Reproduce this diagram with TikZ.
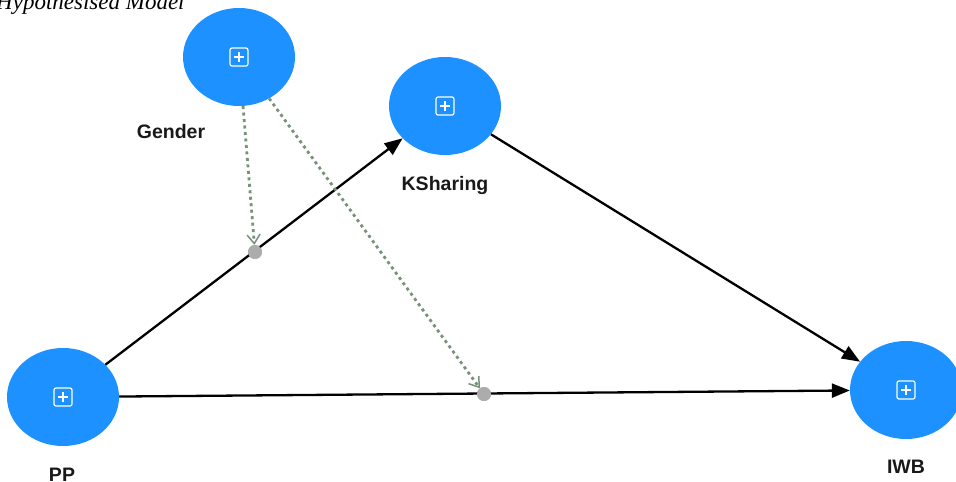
\documentclass[tikz,border=0pt]{standalone}
\usepackage{fontspec}
\setmainfont{Liberation Sans}
\newfontfamily\titlefont{Liberation Serif}
\usetikzlibrary{shapes.geometric,arrows.meta,calc}
\definecolor{lvblue}{RGB}{28,145,255}
\definecolor{modgreen}{RGB}{120,145,122}
\definecolor{dotgray}{RGB}{172,172,172}
\tikzset{
  latent/.style={ellipse,fill=lvblue,draw=none,minimum width=112pt,minimum height=98pt,inner sep=0pt,
    path picture={
      \draw[white,line width=1.2pt,rounded corners=2pt]
        ($(path picture bounding box.center)+(-9pt,-9pt)$) rectangle ++(18pt,18pt);
      \draw[white,line width=1.2pt]
        ($(path picture bounding box.center)+(-5pt,0pt)$) -- ++(10pt,0pt);
      \draw[white,line width=1.2pt]
        ($(path picture bounding box.center)+(0pt,-5pt)$) -- ++(0pt,10pt);
    }},
  lvlabel/.style={font=\bfseries\fontsize{19.5}{22}\selectfont,text=black!90,inner sep=0pt},
  path1/.style={line width=2.3pt,black,-{Triangle[length=18pt,width=14pt]}},
  modpath/.style={line width=2.8pt,modgreen,dash pattern=on 3pt off 3.5pt,
    -{Straight Barb[length=9pt,width=13pt,line width=1.5pt]}},
  moddot/.style={circle,fill=dotgray,draw=none,minimum size=14pt,inner sep=0pt}
}
\begin{document}
\begin{tikzpicture}[x=1pt,y=-1pt]
\useasboundingbox (0,0) rectangle (956,482);
\node[anchor=base west,inner sep=0pt,font=\titlefont\itshape\fontsize{23}{25}\selectfont] (title) at (-4,9.5) {Hypothesised Model};

\node[latent] (G) at (239,57) {};
\node[latent] (KS) at (445,106) {};
\node[latent] (PP) at (63,397) {};
\node[latent] (IWB) at (906,390) {};

\node[lvlabel] (Glab) at (171,132) {Gender};
\node[lvlabel] (KSlab) at (445,185) {KSharing};
\node[lvlabel] (PPlab) at (62,475) {PP};
\node[lvlabel] (IWBlab) at (906,467) {IWB};

\node[moddot] (m1) at (255,252) {};
\node[moddot] (m2) at (484,394) {};

\draw[path1] (PP) -- (KS);
\draw[path1] (KS) -- (IWB);
\draw[path1] (PP) -- (IWB);

\node[moddot] at (m1) {};
\node[moddot] at (m2) {};

\draw[modpath] (G) -- (m1);
\draw[modpath] (G) -- (m2);
\end{tikzpicture}
\end{document}
